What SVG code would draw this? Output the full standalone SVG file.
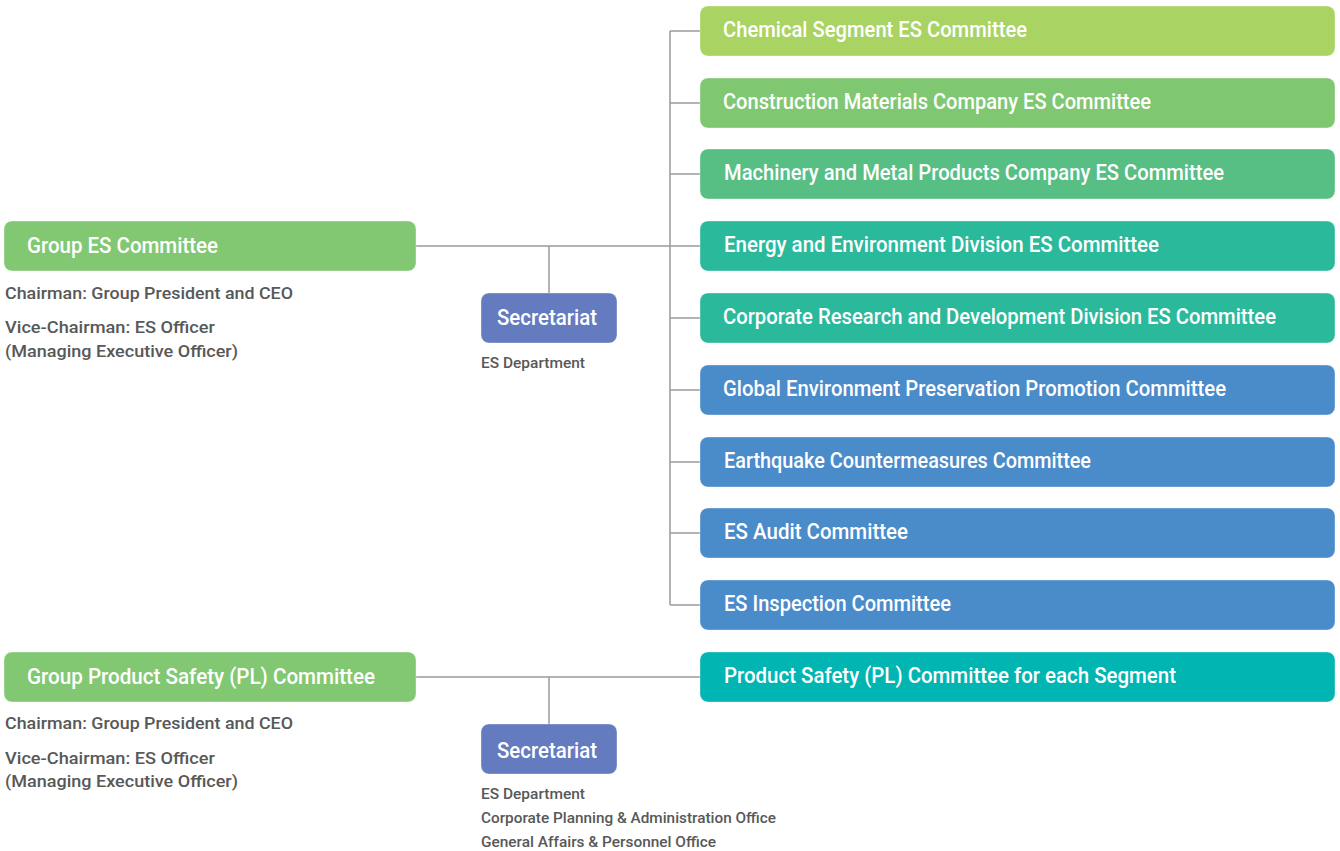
<svg xmlns="http://www.w3.org/2000/svg" width="1340" height="851" viewBox="0 0 1340 851">
<style>
.bx{stroke:#ffffff;stroke-opacity:0.35;stroke-width:1}
.lb{font-family:Roboto,"Liberation Sans",sans-serif;font-weight:500;font-size:22px;fill:#ffffff}
.nt{font-family:Roboto,"Liberation Sans",sans-serif;font-weight:500;font-size:17px;fill:#585858}
.sm{font-family:Roboto,"Liberation Sans",sans-serif;font-weight:500;font-size:15px;fill:#585858}
.cn{stroke:#9a9a9a;stroke-width:1.5;fill:none}
</style>
<rect width="1340" height="851" fill="#ffffff"/>
<g id="connectors">
<line class="cn" x1="416" y1="246" x2="700" y2="246"/>
<line class="cn" x1="549" y1="246" x2="549" y2="293"/>
<line class="cn" x1="670" y1="31" x2="670" y2="605"/>
<line class="cn" x1="670" y1="31" x2="700" y2="31"/>
<line class="cn" x1="670" y1="103" x2="700" y2="103"/>
<line class="cn" x1="670" y1="174" x2="700" y2="174"/>
<line class="cn" x1="670" y1="318" x2="700" y2="318"/>
<line class="cn" x1="670" y1="390" x2="700" y2="390"/>
<line class="cn" x1="670" y1="462" x2="700" y2="462"/>
<line class="cn" x1="670" y1="533" x2="700" y2="533"/>
<line class="cn" x1="670" y1="605" x2="700" y2="605"/>
<line class="cn" x1="416" y1="677" x2="700" y2="677"/>
<line class="cn" x1="549" y1="677" x2="549" y2="724"/>
</g>
<g id="group-es">
<rect class="bx" x="4" y="221" width="412" height="50" rx="8" fill="#82c873"/>
<text class="lb" x="27" y="253" textLength="191" lengthAdjust="spacingAndGlyphs">Group ES Committee</text>
<text class="nt" x="5" y="299" textLength="288" lengthAdjust="spacingAndGlyphs">Chairman: Group President and CEO</text>
<text class="nt" x="5" y="333" textLength="210" lengthAdjust="spacingAndGlyphs">Vice-Chairman: ES Officer</text>
<text class="nt" x="5" y="357" textLength="233" lengthAdjust="spacingAndGlyphs">(Managing Executive Officer)</text>
</g>
<g id="secretariat-es">
<rect class="bx" x="481" y="293" width="136" height="50" rx="8" fill="#647bbf"/>
<text class="lb" x="497" y="325" textLength="100" lengthAdjust="spacingAndGlyphs">Secretariat</text>
<text class="sm" x="481" y="368" textLength="104" lengthAdjust="spacingAndGlyphs">ES Department</text>
</g>
<g id="chemical">
<rect class="bx" x="700" y="6" width="635" height="50" rx="8" fill="#a9d363"/>
<text class="lb" x="723" y="37" textLength="304" lengthAdjust="spacingAndGlyphs">Chemical Segment ES Committee</text>
</g>
<g id="construction">
<rect class="bx" x="700" y="78" width="635" height="50" rx="8" fill="#80c771"/>
<text class="lb" x="723" y="109" textLength="428" lengthAdjust="spacingAndGlyphs">Construction Materials Company ES Committee</text>
</g>
<g id="machinery">
<rect class="bx" x="700" y="149" width="635" height="50" rx="8" fill="#57be84"/>
<text class="lb" x="724" y="180" textLength="500" lengthAdjust="spacingAndGlyphs">Machinery and Metal Products Company ES Committee</text>
</g>
<g id="energy">
<rect class="bx" x="700" y="221" width="635" height="50" rx="8" fill="#2bb99c"/>
<text class="lb" x="724" y="252" textLength="435" lengthAdjust="spacingAndGlyphs">Energy and Environment Division ES Committee</text>
</g>
<g id="rnd">
<rect class="bx" x="700" y="293" width="635" height="50" rx="8" fill="#2bb99c"/>
<text class="lb" x="723" y="324" textLength="553" lengthAdjust="spacingAndGlyphs">Corporate Research and Development Division ES Committee</text>
</g>
<g id="global-env">
<rect class="bx" x="700" y="365" width="635" height="50" rx="8" fill="#4a8bca"/>
<text class="lb" x="723" y="396" textLength="503" lengthAdjust="spacingAndGlyphs">Global Environment Preservation Promotion Committee</text>
</g>
<g id="earthquake">
<rect class="bx" x="700" y="437" width="635" height="50" rx="8" fill="#4a8bca"/>
<text class="lb" x="724" y="468" textLength="367" lengthAdjust="spacingAndGlyphs">Earthquake Countermeasures Committee</text>
</g>
<g id="audit">
<rect class="bx" x="700" y="508" width="635" height="50" rx="8" fill="#4a8bca"/>
<text class="lb" x="724" y="539" textLength="184" lengthAdjust="spacingAndGlyphs">ES Audit Committee</text>
</g>
<g id="inspection">
<rect class="bx" x="700" y="580" width="635" height="50" rx="8" fill="#4a8bca"/>
<text class="lb" x="724" y="611" textLength="227" lengthAdjust="spacingAndGlyphs">ES Inspection Committee</text>
</g>
<g id="group-pl">
<rect class="bx" x="4" y="652" width="412" height="50" rx="8" fill="#82c873"/>
<text class="lb" x="27" y="684" textLength="348" lengthAdjust="spacingAndGlyphs">Group Product Safety (PL) Committee</text>
<text class="nt" x="5" y="729" textLength="288" lengthAdjust="spacingAndGlyphs">Chairman: Group President and CEO</text>
<text class="nt" x="5" y="764" textLength="210" lengthAdjust="spacingAndGlyphs">Vice-Chairman: ES Officer</text>
<text class="nt" x="5" y="787" textLength="233" lengthAdjust="spacingAndGlyphs">(Managing Executive Officer)</text>
</g>
<g id="secretariat-pl">
<rect class="bx" x="481" y="724" width="136" height="50" rx="8" fill="#647bbf"/>
<text class="lb" x="497" y="758" textLength="100" lengthAdjust="spacingAndGlyphs">Secretariat</text>
<text class="sm" x="481" y="799" textLength="104" lengthAdjust="spacingAndGlyphs">ES Department</text>
<text class="sm" x="481" y="823" textLength="295" lengthAdjust="spacingAndGlyphs">Corporate Planning &amp; Administration Office</text>
<text class="sm" x="481" y="847" textLength="235" lengthAdjust="spacingAndGlyphs">General Affairs &amp; Personnel Office</text>
</g>
<g id="product-safety">
<rect class="bx" x="700" y="652" width="635" height="50" rx="8" fill="#00b5b2"/>
<text class="lb" x="724" y="683" textLength="452" lengthAdjust="spacingAndGlyphs">Product Safety (PL) Committee for each Segment</text>
</g>
</svg>
